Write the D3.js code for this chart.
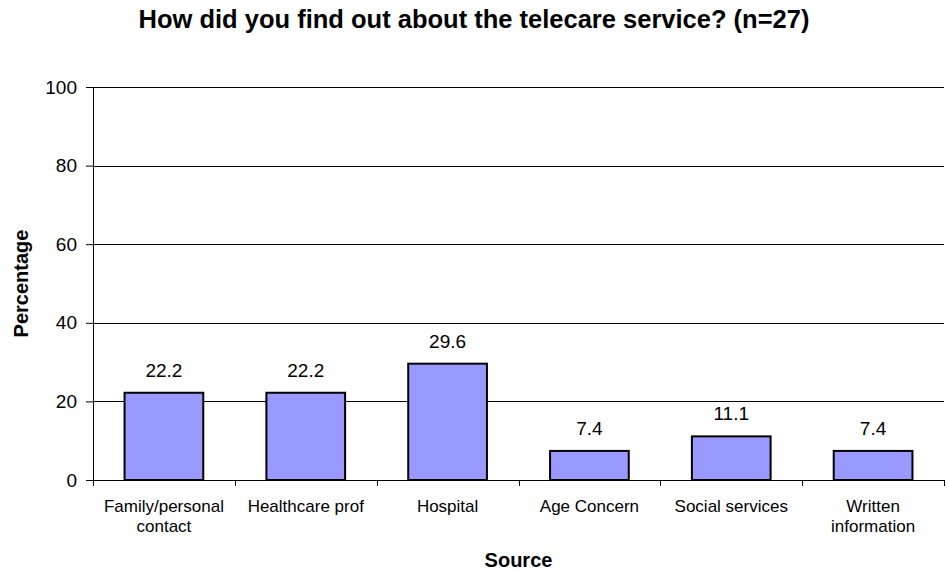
<!DOCTYPE html>
<html>
<head>
<meta charset="utf-8">
<script src="https://cdn.jsdelivr.net/npm/d3@7/dist/d3.min.js"></script>
<style>
  html, body { margin: 0; padding: 0; background: #fff; }
  svg { display: block; font-family: "Liberation Sans", Arial, sans-serif; }
</style>
</head>
<body>
<svg id="chart" width="948" height="573"></svg>
<script>
// Survey responses: source of awareness of the telecare service
const categories = [["Family/personal", "contact"], ["Healthcare prof"], ["Hospital"], ["Age Concern"], ["Social services"], ["Written", "information"]];
const values = [22.2, 22.2, 29.6, 7.4, 11.1, 7.4];
const yTicks = [0, 20, 40, 60, 80, 100];

const title = "How did you find out about the telecare service? (n=27)";
const xTitle = "Source";
const yTitle = "Percentage";

const svg = d3.select("#chart");
const margin = { top: 87, right: 4, bottom: 93, left: 93 };
const W = 948, H = 573;
const plotW = W - margin.left - margin.right;
const plotH = H - margin.top - margin.bottom;

const keys = categories.map((c, i) => i);
const x = d3.scaleBand().domain(keys).range([0, plotW]).paddingInner(0.445).paddingOuter(0.2225);
const xBoundary = d3.scaleBand().domain(keys).range([0, plotW]);
const y = d3.scaleLinear().domain([0, 100]).range([plotH, 0]);

const g = svg.append("g").attr("transform", `translate(${margin.left},${margin.top})`);

// horizontal gridlines
g.append("g").selectAll("line").data(yTicks.filter(t => t > 0)).join("line")
  .attr("x1", 0).attr("x2", plotW)
  .attr("y1", d => Math.round(y(d)) + 0.5).attr("y2", d => Math.round(y(d)) + 0.5)
  .attr("stroke", "#000").attr("stroke-width", 1);

// y axis
const yAxis = g.append("g")
  .call(d3.axisLeft(y).tickValues(yTicks).tickSize(7).tickPadding(9));
yAxis.select(".domain").attr("stroke", "#000").attr("d", `M0.5,${plotH}V0`);
yAxis.selectAll(".tick line").attr("stroke", "#000");
yAxis.selectAll(".tick text").attr("font-size", 19).attr("fill", "#000")
  .attr("font-family", "Liberation Sans, Arial, sans-serif");

// bars
g.append("g").selectAll("rect").data(values).join("rect")
  .attr("x", (d, i) => x(i))
  .attr("y", d => y(d))
  .attr("width", x.bandwidth())
  .attr("height", d => plotH - y(d))
  .attr("fill", "#9999ff")
  .attr("stroke", "#000")
  .attr("stroke-width", 2);

// x axis baseline and category boundary ticks
g.append("line").attr("x1", 0).attr("x2", plotW)
  .attr("y1", plotH + 0.5).attr("y2", plotH + 0.5).attr("stroke", "#000");
const bounds = keys.map(k => xBoundary(k)).concat([plotW]);
g.append("g").selectAll("line").data(bounds).join("line")
  .attr("x1", d => Math.round(d) + 0.5).attr("x2", d => Math.round(d) + 0.5)
  .attr("y1", plotH).attr("y2", plotH + 6)
  .attr("stroke", "#000");

// category labels
const labels = g.append("g").selectAll("text").data(categories).join("text")
  .attr("text-anchor", "middle")
  .attr("font-size", 17)
  .attr("fill", "#000")
  .attr("transform", (d, i) => `translate(${xBoundary(i) + xBoundary.bandwidth() / 2},${plotH + 32})`);
labels.selectAll("tspan").data(d => d).join("tspan")
  .attr("x", 0).attr("dy", (d, i) => i === 0 ? 0 : 20).text(d => d);

// value labels
g.append("g").selectAll("text").data(values).join("text")
  .attr("x", (d, i) => x(i) + x.bandwidth() / 2)
  .attr("y", d => y(d) - 16)
  .attr("text-anchor", "middle")
  .attr("font-size", 19)
  .attr("fill", "#000")
  .text(d => d.toFixed(1));

// titles
svg.append("text").attr("x", 474).attr("y", 28)
  .attr("text-anchor", "middle").attr("font-size", 25.5).attr("font-weight", "bold")
  .text(title);
svg.append("text").attr("x", margin.left + plotW / 2).attr("y", 567)
  .attr("text-anchor", "middle").attr("font-size", 20).attr("font-weight", "bold")
  .text(xTitle);
svg.append("text").attr("transform", `translate(28,${margin.top + plotH / 2}) rotate(-90)`)
  .attr("text-anchor", "middle").attr("font-size", 20).attr("font-weight", "bold")
  .text(yTitle);
</script>
</body>
</html>
